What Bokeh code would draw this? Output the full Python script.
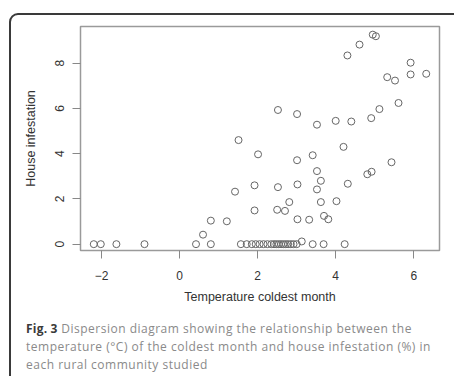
from bokeh.plotting import figure
from bokeh.models import FixedTicker, Range1d, InlineStyleSheet, Div
from bokeh.layouts import column
from bokeh.embed import file_html
from bokeh.resources import INLINE

# temperature of the coldest month (°C) and house infestation
temperature = [
    4.30, 4.61, 4.95, 5.03, 5.92, 5.92, 6.32, 5.32, 5.52, 5.61,
    5.12, 4.91, 4.40, 4.00, 3.52, 3.01, 2.52, 1.51, 2.01, 3.01,
    3.41, 4.20, 5.43, 4.81, 4.92, 3.52, 3.62, 3.52, 4.31, 3.02,
    2.52, 1.92, 1.42, 3.62, 4.02, 1.92, 2.50, 2.70, 2.81, 3.02,
    3.32, 3.70, 3.81, 0.80, 1.21, 0.60, 3.13,
    -2.20, -2.02, -1.62, -0.90, 0.42, 0.80, 1.57, 1.72, 1.85, 1.95,
    2.05, 2.15, 2.25, 2.35, 2.42, 2.48, 2.54, 2.60, 2.66, 2.72,
    2.78, 2.85, 2.92, 3.00, 3.41, 3.69, 4.23,
]
infestation = [
    8.34, 8.82, 9.26, 9.19, 8.02, 7.50, 7.53, 7.38, 7.23, 6.24,
    5.97, 5.57, 5.42, 5.45, 5.28, 5.75, 5.93, 4.60, 3.97, 3.71,
    3.93, 4.30, 3.62, 3.09, 3.20, 3.23, 2.80, 2.42, 2.67, 2.64,
    2.52, 2.60, 2.32, 1.86, 1.90, 1.49, 1.52, 1.47, 1.86, 1.10,
    1.08, 1.25, 1.10, 1.04, 1.01, 0.42, 0.12,
    0, 0, 0, 0, 0, 0, 0, 0, 0, 0,
    0, 0, 0, 0, 0, 0, 0, 0, 0, 0,
    0, 0, 0, 0, 0, 0, 0,
]
x_ticks = [-2, 0, 2, 4, 6]
y_ticks = [0, 2, 4, 6, 8]
x_label = "Temperature coldest month"
y_label = "House infestation"
caption_bold = "Fig. 3"
caption_lines = [
    "Dispersion diagram showing the relationship between the",
    "temperature (°C) of the coldest month and house infestation (%) in",
    "each rural community studied",
]

FIG_H = 310

p = figure(width=454, height=FIG_H, output_backend="svg", toolbar_location=None,
           x_range=Range1d(-2.54, 6.66), y_range=Range1d(-0.28, 9.62),
           min_border_left=80, min_border_right=15, min_border_top=26,
           min_border_bottom=FIG_H - 250)
p.grid.visible = False
p.outline_line_color = "#9a9a9a"
p.outline_line_width = 1.5
p.background_fill_color = "white"
p.border_fill_color = "white"

for ax, ticks in ((p.xaxis, x_ticks), (p.yaxis, y_ticks)):
    ax.ticker = FixedTicker(ticks=ticks)
    ax.minor_tick_line_color = None
    ax.axis_line_color = None
    ax.major_tick_in = 0
    ax.major_tick_out = 8
    ax.major_tick_line_color = "#888888"
    ax.major_tick_line_width = 1
    ax.major_label_text_font = "Liberation Sans"
    ax.major_label_text_font_size = "12px"
    ax.major_label_text_color = "#333333"
    ax.axis_label_text_font = "Liberation Sans"
    ax.axis_label_text_font_size = "12.5px"
    ax.axis_label_text_font_style = "normal"
    ax.axis_label_text_color = "#333333"

p.xaxis.axis_label = x_label
p.yaxis.axis_label = y_label
p.xaxis.major_label_standoff = 12
p.xaxis.axis_label_standoff = 7
p.yaxis.major_label_standoff = 8
p.yaxis.axis_label_standoff = 15
p.yaxis.major_label_orientation = "vertical"

p.scatter(temperature, infestation, size=7, marker="circle",
          fill_color=None, line_color="#666666", line_width=1)

caption_html = (
    f'<span style="font-weight:bold;color:#3a3a3a;letter-spacing:0.2px">{caption_bold}</span> '
    + "<br>".join(caption_lines)
)
cap = Div(text=caption_html, width=454, height=376 - FIG_H,
          styles={"font-family": "'Open Sans'", "font-size": "12px",
                  "letter-spacing": "0.5px",
                  "line-height": "18px", "color": "#8a8a8a",
                  "padding-left": "21px", "padding-top": "5px",
                  "white-space": "nowrap", "box-sizing": "border-box",
                  "background": "white"})

layout = column(p, cap, spacing=0)
# outer rounded frame of the figure panel
layout.stylesheets = [InlineStyleSheet(css="""
:host { overflow: hidden; position: relative; }
:host::after { content: ''; position: absolute; left: 9px; top: 13px;
  right: -30px; bottom: -30px; border: 2px solid #3a3a3a;
  border-radius: 9px; pointer-events: none; z-index: 10; }
""")]

open("out.html", "w").write(file_html(layout, INLINE))
